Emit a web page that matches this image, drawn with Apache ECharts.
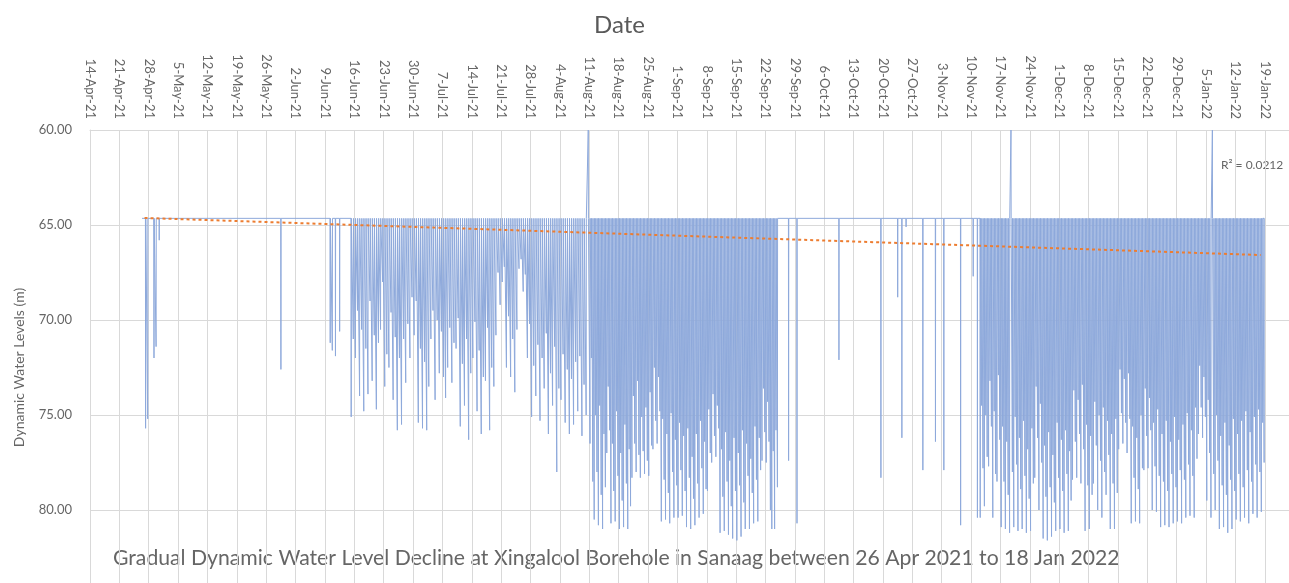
<!DOCTYPE html>
<html>
<head>
<meta charset="utf-8">
<script src="https://cdn.jsdelivr.net/npm/echarts@6/dist/echarts.min.js"></script>
<style>html,body{margin:0;padding:0;background:#fff;overflow:hidden;}#c{width:1289px;height:583px;}</style>
</head>
<body>
<div id="c"></div>
<script>
// x values are days since 14-Apr-2021
const tickLabels = ['14-Apr-21','21-Apr-21','28-Apr-21','5-May-21','12-May-21','19-May-21','26-May-21','2-Jun-21','9-Jun-21','16-Jun-21','23-Jun-21','30-Jun-21','7-Jul-21','14-Jul-21','21-Jul-21','28-Jul-21','4-Aug-21','11-Aug-21','18-Aug-21','25-Aug-21','1-Sep-21','8-Sep-21','15-Sep-21','22-Sep-21','29-Sep-21','6-Oct-21','13-Oct-21','20-Oct-21','27-Oct-21','3-Nov-21','10-Nov-21','17-Nov-21','24-Nov-21','1-Dec-21','8-Dec-21','15-Dec-21','22-Dec-21','29-Dec-21','5-Jan-22','12-Jan-22','19-Jan-22'];

const restLevel = 64.65;          // static level between pumping cycles
const recordStart = 12.4;         // 26-Apr-21
const recordEnd = 279.5;          // 18-Jan-22

// days with pumping and the level reached in each pumping cycle of that day
const pumpDay = [13,15,16,45,57,58,59,
 62,63,64,65,66,67,68,69,70,71,72,73,74,75,76,77,78,79,80,81,82,83,84,85,86,87,88,89,90,91,92,93,94,95,96,97,98,99,100,101,102,103,104,105,106,107,108,109,110,111,112,113,114,115,116,117,118,
 119,120,121,122,123,124,125,126,127,128,129,130,131,132,133,134,135,136,137,138,139,140,141,142,143,144,145,146,147,148,149,150,151,152,153,154,155,156,157,158,159,160,161,162,163,
 166,168,178,188,192,193,194,198,201,203,207,210,211,
 212,213,214,215,216,217,218,219,220,221,222,223,224,225,226,227,228,229,230,231,232,233,234,235,236,237,238,239,240,241,242,243,244,245,246,247,248,249,250,251,252,253,254,255,256,257,258,259,260,261,262,263,264,265,266,267,268,269,270,271,272,273,274,275,276,277,278,279];

const pumpLevels = [
 [75.7,75.2],[72.0,71.4],[65.8],[72.6],[71.2,71.6],[71.9],[70.6],
 [75.1,71.0],[72.0,69.5],[74.0,70.5],[74.8,71.5],[73.9,69.0],[73.2,70.8],[74.7,71.2],[70.5,68.0],[73.5,71.8],[72.5,69.6],
 [74.2,70.9],[75.8,72.0],[75.5,71.0],[73.3,70.2],[72.0,68.8],[70.8,69.0],[75.4,71.5],[75.7,72.2],[75.8,73.5],[71.0,69.5],
 [74.2,70.0],[72.8,70.6],[73.0,74.1],[72.5,70.4],[73.3,71.2],[71.5,69.9],[75.6,72.3],[74.5,71.0],[76.3,72.8],[72.0,70.1],
 [74.8,71.6],[76.0,73.0],[73.2,70.4],[75.8,72.5],[73.5,70.8],[67.5,69.2],[68.0,67.2],[72.5,69.8],[73.0,71.0],[73.8,70.5],
 [67.3,66.8],[68.5,67.6],[72.0,70.2],[75.1,72.4],[74.0,71.3],[75.3,72.0],[73.6,70.7],[76.0,72.8],[74.5,71.4],[78.0,73.6],
 [74.2,71.8],[75.4,72.6],[76.0,73.1],[75.5,72.2],[74.8,71.9],[76.1,73.4],[75.0,60.0],
 [76.5,72.0,78.5],[80.5,75.0,78.0],[80.8,74.5,79.2],[81.0,76.0,78.8],[77.0,73.5,75.8],[80.7,76.5,79.0],[80.6,74.8,78.2],
 [81.0,77.0,79.5],[80.9,75.5,78.6],[81.0,76.8,79.8],[78.3,74.0,76.5],[78.0,73.2,77.1],[78.3,75.1,76.9],[78.1,74.6,77.4],
 [78.2,73.8,76.6],[76.8,72.5,75.3],[76.5,73.0,74.8],[80.6,75.2,78.4],[80.5,76.0,79.1],[80.7,74.9,78.0],[80.4,76.3,78.7],
 [80.4,75.4,77.9],[80.3,76.1,79.0],[80.9,75.7,78.3],[81.0,77.2,79.4],[80.8,76.0,78.6],[80.4,75.3,77.8],[80.2,76.4,78.9],
 [79.0,74.7,77.0],[77.5,73.9,76.1],[77.2,74.5,75.7],[81.2,76.8,79.3],[81.1,75.9,78.5],[81.3,77.4,79.8],[81.5,76.2,79.0],
 [81.6,77.0,78.7],[81.4,75.8,79.6],[81.0,76.5,78.2],[81.0,77.3,79.1],[80.7,75.6,78.4],[80.6,76.2,77.9],[77.4,73.6,75.9],
 [77.5,74.3,76.4],[80.0,81.0,76.9],[81.0,75.8,78.8],
 [77.4],[80.7],[72.1],[78.3],[68.8],[76.2],[65.1],[77.9],[76.4],[77.9],[80.8],[67.7],[80.4],
 [80.4,74.5,77.8],[79.8,75.0,77.2],[77.7,73.2,75.6],[80.4,74.8,78.1],[78.5,72.9,76.3],[80.9,75.6,78.5],[81.0,76.4,79.2],
 [81.2,60.0,78.0],[80.9,75.1,77.6],[81.1,76.2,78.9],[81.0,75.3,78.2],[81.2,76.8,79.4],[81.1,75.7,78.6],[78.3,73.5,76.2],
 [80.0,74.4,77.5],[81.5,76.6,79.3],[81.6,75.9,78.8],[81.4,77.1,79.6],[81.1,75.4,78.3],[81.0,76.3,79.0],[81.2,75.8,78.1],
 [81.1,76.9,79.5],[78.4,73.7,76.4],[78.3,74.2,76.0],[78.6,73.4,76.8],[81.1,75.5,78.7],[81.0,76.1,79.2],[78.6,74.3,76.6],
 [80.0,75.0,77.4],[80.4,74.6,78.0],[79.2,75.3,77.1],[81.0,76.0,78.6],[81.0,75.2,79.1],[76.8,72.6,74.9],[76.5,73.1,75.4],
 [77.0,72.8,75.2],[80.7,75.6,78.3],[80.6,76.2,78.9],[80.7,75.0,77.8],[77.9,73.6,76.1],[77.8,74.1,75.8],[80.0,75.4,77.7],
 [80.1,74.7,78.2],[80.9,76.0,78.5],[80.8,75.3,79.0],[80.9,76.4,78.1],[80.7,75.1,78.8],[80.6,76.3,77.9],[80.7,75.5,78.4],
 [80.4,74.9,77.6],[80.3,75.8,78.2],[80.4,74.6,77.3],[76.0,72.4,74.6],[76.2,73.0,75.1],[79.5,74.2,77.0],[80.4,60.0,78.1],
 [80.0,75.0,77.4],[81.0,76.1,78.7],[80.9,75.4,79.2],[81.2,76.6,78.4],[81.0,75.2,79.0],[80.5,76.0,78.1],[80.6,75.3,78.8],
 [80.4,74.8,77.9],[80.7,75.9,78.5],[80.2,75.1,77.6],[80.4,74.7,78.0],[80.1,75.4,77.5]
];

// linear trend (Excel) end points
const trendDays = [13, 279];
const trendLevels = [64.63, 66.58];
const rSquared = '0.0212';

// build the reading sequence: rest level, drawdown minimum, back to rest
const readings = [[recordStart, restLevel]];
pumpDay.forEach((d, i) => {
  const lv = pumpLevels[i];
  lv.forEach((v, k) => {
    const t = d + (k + 0.5) / lv.length;
    readings.push([t - 0.04, restLevel], [t, v], [t + 0.04, restLevel]);
  });
});
readings.push([recordEnd, restLevel]);

const trend = trendDays.map((d, i) => [d, trendLevels[i]]);

const FONT = 'Lato, "Open Sans", sans-serif';
const chart = echarts.init(document.getElementById('c'));
chart.setOption({
  animation: false,
  backgroundColor: '#ffffff',
  grid: { left: 90, top: 130, width: 1200, height: 475, containLabel: false, outerBoundsMode: 'none' },
  xAxis: {
    type: 'value', position: 'top', min: 0, max: 286, interval: 7,
    axisLine: { show: true, lineStyle: { color: '#d9d9d9' } },
    axisTick: { show: false },
    splitLine: { show: true, lineStyle: { color: '#d9d9d9', width: 1 } },
    axisLabel: {
      rotate: 90, margin: 11, fontSize: 13, color: '#666666', fontFamily: FONT,
      formatter: v => tickLabels[v / 7] || ''
    }
  },
  yAxis: {
    type: 'value', inverse: true, min: 60, max: 85, interval: 5,
    name: 'Dynamic Water Levels (m)', nameLocation: 'middle', nameGap: 64,
    nameTextStyle: { fontSize: 14, color: '#666666', fontFamily: FONT },
    axisLine: { show: true, lineStyle: { color: '#d9d9d9' } },
    axisTick: { show: false },
    splitLine: { show: true, lineStyle: { color: '#d9d9d9', width: 1 } },
    axisLabel: { margin: 18, fontSize: 13, color: '#666666', fontFamily: FONT, showMaxLabel: false, formatter: v => v.toFixed(2) }
  },
  graphic: [
    { type: 'text', left: 594, top: 13, style: { text: 'Date', fontSize: 24, fill: '#595959', fontFamily: FONT } },
    { type: 'text', left: 1221, top: 159, style: { text: 'R\u00B2 = ' + rSquared, fontSize: 12, fill: '#666666', fontFamily: FONT } },
    { type: 'text', left: 113, top: 548, style: { text: 'Gradual Dynamic Water Level Decline at Xingalool Borehole in Sanaag between 26 Apr 2021 to 18 Jan 2022', fontSize: 21.2, fill: '#666666', fontFamily: FONT } }
  ],
  series: [
    {
      type: 'line', data: readings, showSymbol: false, symbol: 'none',
      lineStyle: { color: '#8ea9db', width: 1 }, z: 2
    },
    {
      type: 'line', data: trend, showSymbol: false, symbol: 'none',
      lineStyle: { color: '#ed7d31', width: 2, type: [3, 3] }, z: 3
    }
  ]
});
</script>
</body>
</html>
